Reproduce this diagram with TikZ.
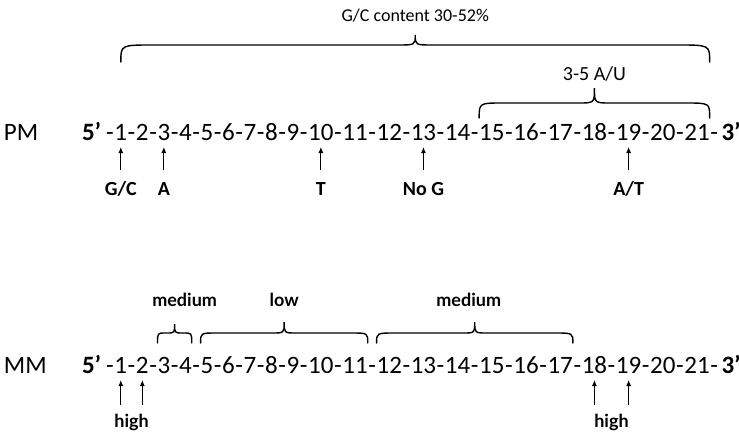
\documentclass[tikz,border=0pt]{standalone}
\usepackage{fontspec}
\setmainfont{Carlito}
\newfontfamily\latofont{Lato}
\usetikzlibrary{arrows.meta,calc}
\newcommand\seqfont{\fontsize{25}{30}\selectfont}
\newcommand\labfont{\fontsize{20}{24}\selectfont\bfseries}
\newcommand\lowlabfont{\fontsize{18}{22}\selectfont\latofont\bfseries}
\newcommand\topfont{\fontsize{18}{22}\selectfont}
\newcommand\aufont{\fontsize{20}{24}\selectfont}
% sequence line: #1 prefix, #2 x start, #3 baseline y
\newcommand\seqline[3]{%
  \node[tok, font=\seqfont\bfseries, anchor=base west] (#1s) at (#2,#3) {5’};
  \coordinate (#1n0) at ([xshift=4.5pt]#1s.base east);
  \foreach \i [remember=\i as \j (initially 0)] in {1,...,21} {
    \node[tok, hy, anchor=base west] (#1h\i) at (#1n\j.base east) {-};
    \node[tok, anchor=base west] (#1n\i) at (#1h\i.base east) {\i};
  }
  \node[tok, hy, anchor=base west] (#1h22) at (#1n21.base east) {-};
  \node[tok, font=\seqfont\bfseries, anchor=base west] (#1e) at ([xshift=3pt]#1h22.base east) {3’};
}
% brace: #1 name of tip coordinate, #2 left point, #3 right point,
% #4 y of ends, #5 y of flat part, #6 y of tip, #7 end radius, #8 tip radius
\newcommand\nbrace[8]{%
  \coordinate (ye) at (0,#4);
  \coordinate (yf) at (0,#5);
  \coordinate (yt) at (0,#6);
  \coordinate (bL) at (#2 |- ye);
  \coordinate (bR) at (#3 |- ye);
  \coordinate (bM) at ($(bL)!0.5!(bR)$);
  \coordinate (#1) at (bM |- yt);
  \draw[brc] (bL) .. controls (bL |- yf) .. ($(bL |- yf)+(#7,0)$)
    -- ($(bM |- yf)-(#8,0)$) .. controls (bM |- yf) .. (#1)
    .. controls (bM |- yf) .. ($(bM |- yf)+(#8,0)$)
    -- ($(bR |- yf)-(#7,0)$) .. controls (bR |- yf) .. (bR);
}
\begin{document}
\begin{tikzpicture}[x=1pt,y=-1pt,
  tok/.style={inner sep=0pt,outer sep=0pt,font=\seqfont},
  hy/.style={inner xsep=0.6pt},
  lab/.style={inner sep=0pt,font=\labfont,anchor=base},
  lowlab/.style={inner sep=0pt,font=\lowlabfont,anchor=base},
  toplab/.style={inner sep=0pt,font=\topfont,anchor=base},
  brc/.style={line width=1.4pt,line cap=round},
  arr/.style={line width=1pt,-{Latex[length=6pt,width=5pt]}}]
\fill[white] (0,0) rectangle (739,434);
\useasboundingbox (0,0) rectangle (739,434);

% ---------- PM ----------
\node[tok, anchor=base west] (pm) at (4,140) {PM};
\seqline{P}{82}{140}

\nbrace{bigtip}{Pn1}{Ph22.west}{62}{45}{35}{32}{18}
\node[toplab] (gccontent) at ($(bigtip)+(0,-14)$) {G/C content 30-52\%};
\nbrace{autip}{Pn15.west}{Ph22.west}{118}{103}{88}{24}{16}
\node[toplab, font=\aufont] (au) at ($(autip)+(0,-8)$) {3-5 A/U};

\foreach \k/\t/\nm in {1/G\slash C/l1, 3/A/l3, 10/T/l10, 13/No G/l13, 19/A\slash T/l19} {
  \node[lab] (P\nm) at ([yshift=-55pt]Pn\k.base) {\t};
  \draw[arr] ([yshift=-30pt]Pn\k.base) -- ([yshift=-7pt]Pn\k.base);
}

% ---------- MM ----------
\node[tok, anchor=base west] (mm) at (4,373) {MM};
\seqline{M}{82}{373}

\nbrace{medAtip}{Mn3.west}{Mn4.east}{343}{333}{324}{8}{8}
\node[lowlab] (med1) at ($(medAtip)+(10,-18)$) {medium};
\nbrace{lowtip}{Mn5.west}{Mn11.east}{343}{333}{322}{16}{12}
\node[lowlab] (low) at ($(lowtip)+(0,-16)$) {low};
\nbrace{medBtip}{Mn12.west}{Mn17.east}{343}{333}{322}{18}{12}
\node[lowlab] (med2) at ($(medBtip)+(-6,-16)$) {medium};

\foreach \k in {1,2,18,19} {
  \draw[arr] ([yshift=-32pt]Mn\k.base) -- ([yshift=-7pt]Mn\k.base);
}
\node[lowlab] (high1) at ($([yshift=-54pt]Mn1.base)!0.5!([yshift=-54pt]Mn2.base)$) {high};
\node[lowlab] (high2) at ($([yshift=-54pt]Mn18.base)!0.5!([yshift=-54pt]Mn19.base)$) {high};
\end{tikzpicture}
\end{document}
